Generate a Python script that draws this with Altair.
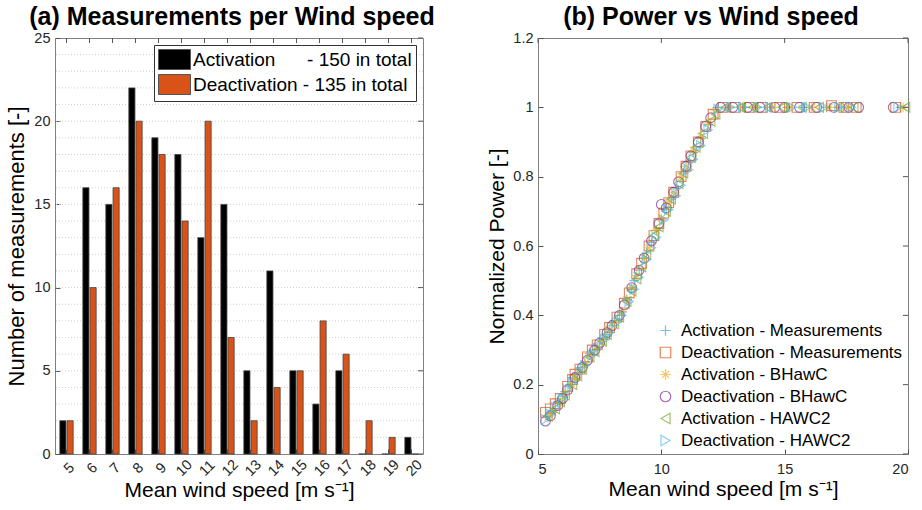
import altair as alt
import pandas as pd

# ---------------- data: panel (a) ----------------
speeds = list(range(5, 21))
act_counts = [2, 16, 15, 22, 19, 18, 13, 15, 5, 11, 5, 3, 5, 0, 0, 1]
deact_counts = [2, 10, 16, 20, 18, 14, 20, 7, 2, 4, 5, 8, 6, 2, 1, 0]
bar_series = ["Activation\u00a0\u00a0\u00a0\u00a0\u00a0\u00a0- 150 in total",
              "Deactivation - 135 in total"]
bar_colors = ["#000000", "#D95319"]
grid_vals = list(range(1, 25))
y_ticks_a = [0, 5, 10, 15, 20, 25]

# ---------------- data: panel (b) ----------------
am_x = [5.4,5.6,5.8,6.0,6.1,6.3,6.4,6.6,6.8,6.9,7.1,7.3,7.5,7.6,7.8,8.0,8.1,8.3,8.4,8.6,
        8.8,8.9,9.1,9.3,9.4,9.6,9.8,10.0,10.2,10.4,10.6,10.9,11.1,11.3,11.6,11.9,12.3,12.8,
        13.4,13.9,14.4,15.1,15.8,16.7,17.3,19.7]
am_y = [.11,.125,.15,.165,.18,.20,.22,.235,.25,.265,.29,.30,.32,.335,.345,.37,.385,.40,.41,.445,
        .475,.50,.53,.565,.58,.61,.645,.675,.705,.735,.765,.81,.84,.87,.91,.95,1.0,1.0,
        1.0,1.0,1.0,1.0,1.0,1.0,1.0,1.0]
dm_x = [5.3,5.5,5.7,5.9,6.2,6.4,6.5,6.7,7.0,7.2,7.4,7.7,7.9,8.2,8.5,8.7,9.0,9.2,9.5,9.7,
        9.9,10.1,10.3,10.5,10.8,11.0,11.2,11.5,11.8,12.1,12.5,13.0,13.6,14.1,14.8,15.5,16.2,
        16.9,17.4,17.9,19.5]
dm_y = [.12,.13,.145,.16,.195,.215,.23,.245,.28,.30,.315,.345,.365,.395,.435,.465,.52,.55,.60,.63,
        .665,.695,.725,.755,.80,.83,.86,.90,.945,.98,1.0,1.0,1.0,1.0,1.0,1.0,1.0,
        1.005,1.0,1.0,1.0]
ab_x = [5.4,5.6,5.9,6.1,6.3,6.5,6.7,6.9,7.1,7.4,7.6,7.9,8.1,8.4,8.6,8.8,9.0,9.3,9.5,9.8,
        10.0,10.3,10.5,10.8,11.0,11.3,11.6,11.9,12.2,12.7,13.3,13.8,14.5,15.2,16.1,16.8,17.5,19.8]
ab_y = [.105,.12,.15,.175,.195,.22,.24,.26,.285,.31,.325,.36,.38,.41,.445,.48,.515,.565,.595,.645,
        .68,.725,.755,.80,.83,.875,.915,.955,.99,1.0,1.0,1.0,1.0,1.0,1.0,1.0,1.0,1.0]
db_x = [5.3,5.5,5.8,6.0,6.2,6.5,6.8,7.0,7.3,7.5,7.8,8.0,8.3,8.5,8.8,9.1,9.3,9.6,9.9,10.0,
        10.2,10.5,10.7,11.0,11.2,11.5,11.8,12.0,12.4,12.9,13.5,14.0,14.6,15.0,15.6,16.3,17.0,
        17.6,18.0,19.4]
db_y = [.095,.11,.14,.16,.185,.22,.25,.27,.30,.32,.35,.37,.40,.43,.48,.53,.565,.615,.665,.72,
        .71,.755,.785,.83,.86,.90,.945,.97,1.0,1.0,1.0,1.0,1.0,1.0,1.0,1.0,1.0,
        1.0,1.0,1.0]
ah_x = [5.4,5.7,5.9,6.1,6.4,6.6,6.8,7.1,7.3,7.6,7.8,8.1,8.3,8.6,8.8,9.0,9.2,9.4,9.7,9.9,
        10.2,10.4,10.7,10.9,11.2,11.4,11.7,12.0,12.2,12.6,13.2,13.7,14.3,14.9,15.7,16.4,17.2,
        17.8,19.9]
ah_y = [.11,.13,.15,.17,.20,.225,.245,.28,.295,.325,.345,.375,.395,.44,.47,.505,.54,.575,.63,.655,
        .70,.735,.78,.81,.855,.885,.925,.96,.98,1.0,1.0,1.0,1.0,1.0,1.0,1.0,1.0,
        1.0,1.0]
dh_x = [5.3,5.5,5.7,6.0,6.2,6.4,6.7,6.9,7.2,7.4,7.7,7.9,8.2,8.4,8.7,8.9,9.1,9.4,9.6,9.8,
        10.1,10.3,10.6,10.8,11.1,11.3,11.6,11.9,12.3,12.8,13.3,13.9,14.4,15.3,15.9,16.6,17.2,
        17.7,19.6]
dh_y = [.10,.115,.135,.16,.185,.205,.235,.255,.285,.305,.33,.35,.38,.40,.44,.475,.51,.56,.595,.625,
        .675,.705,.745,.775,.82,.85,.89,.935,.995,1.0,1.0,1.0,1.0,1.0,1.0,1.0,1.0,
        1.0,1.0]

pt_series = ["Activation - Measurements", "Deactivation - Measurements",
             "Activation - BHawC", "Deactivation - BHawC",
             "Activation - HAWC2", "Deactivation - HAWC2"]
pt_colors = ["#3FA4E0", "#D95319", "#EDB120", "#7E2F8E", "#77AC30", "#4DBEEE"]
plus_path = "M-1,0H1M0,-1V1"
star_path = "M-1,0H1M0,-1V1M-0.7,-0.7L0.7,0.7M-0.7,0.7L0.7,-0.7"
pt_shapes = [plus_path, "square", star_path, "circle", "triangle-left", "triangle-right"]
x_ticks_b = [5, 10, 15, 20]
y_ticks_b = [0, 0.2, 0.4, 0.6, 0.8, 1.0, 1.2]

# ---------------- tables ----------------
bars_df = pd.DataFrame(
    [{"speed": s, "series": bar_series[0], "count": c} for s, c in zip(speeds, act_counts)]
    + [{"speed": s, "series": bar_series[1], "count": c} for s, c in zip(speeds, deact_counts)]
)
grid_df = pd.DataFrame({"g": grid_vals})
speed_df = pd.DataFrame({"speed": speeds})
yta_df = pd.DataFrame({"v": y_ticks_a})
xtb_df = pd.DataFrame({"v": x_ticks_b})
ytb_df = pd.DataFrame({"v": y_ticks_b})

rows = []
for name, xs, ys in zip(pt_series,
                        [am_x, dm_x, ab_x, db_x, ah_x, dh_x],
                        [am_y, dm_y, ab_y, db_y, ah_y, dh_y]):
    for xv, yv in zip(xs, ys):
        rows.append({"series": name, "ws": xv, "p": yv})
pts_df = pd.DataFrame(rows)

FONT = "Liberation Sans"
LAB = "#262626"
TICK = "#555555"
WA, WB, H = 368, 370, 416

# ---------------- panel (a) ----------------
xs_a = alt.Scale(paddingInner=0.42, paddingOuter=0.21)
ys_a = alt.Scale(domain=[0, 25])

grid_layer = alt.Chart(grid_df).mark_rule(color="#cfcfcf", strokeDash=[1, 2], strokeWidth=1).encode(
    y=alt.Y("g:Q", scale=ys_a, axis=None)
)

bar_layer = alt.Chart(bars_df).mark_bar(stroke="#444444", strokeWidth=0.8).encode(
    x=alt.X("speed:O", scale=xs_a, sort=speeds,
            axis=alt.Axis(title="Mean wind speed [m s\u207b\u00b9]", labelAngle=315,
                          labelAlign="center", labelBaseline="middle", labelPadding=14,
                          labelOffset=3, tickSize=5, offset=-5, domain=False,
                          titlePadding=1, titleFontSize=21)),
    xOffset=alt.XOffset("series:N", sort=bar_series,
                        scale=alt.Scale(domain=bar_series, paddingInner=0.15)),
    y=alt.Y("count:Q", scale=ys_a,
            axis=alt.Axis(title="Number of measurements [-]", values=y_ticks_a,
                          tickSize=5, offset=-5, domain=False, grid=False,
                          labelPadding=5, titlePadding=5, titleFontSize=22)),
    color=alt.Color("series:N", sort=bar_series,
                    scale=alt.Scale(domain=bar_series, range=bar_colors),
                    legend=alt.Legend(title=None, orient="top-right", offset=7,
                                      strokeColor="#333333", fillColor="white", padding=4,
                                      labelFontSize=19, labelColor="#000000", labelLimit=400,
                                      symbolType="M-1.6,-1H1.6V1H-1.6Z", symbolSize=400,
                                      symbolStrokeColor="#555555", symbolStrokeWidth=1,
                                      symbolOffset=6, labelOffset=8, rowPadding=0)),
)

top_ticks_a = alt.Chart(speed_df).mark_rule(color=TICK).encode(
    x=alt.X("speed:O", scale=xs_a, sort=speeds, axis=None),
    y=alt.value(0), y2=alt.value(5),
)
right_ticks_a = alt.Chart(yta_df).mark_rule(color=TICK).encode(
    y=alt.Y("v:Q", scale=ys_a, axis=None),
    x=alt.value(WA - 5), x2=alt.value(WA),
)

panel_a = alt.layer(grid_layer, bar_layer, top_ticks_a, right_ticks_a).resolve_axis(
    x="independent", y="independent"
).properties(
    width=WA, height=H,
    title=alt.TitleParams("(a) Measurements per Wind speed", fontSize=25, fontWeight="bold",
                          frame="group", anchor="middle", offset=0, dx=-7, font=FONT),
)

# ---------------- panel (b) ----------------
xs_b = alt.Scale(domain=[5, 20], nice=False)
ys_b = alt.Scale(domain=[0, 1.2], nice=False)

pts_layer = alt.Chart(pts_df).mark_point(filled=False, size=95, strokeWidth=1.1).encode(
    x=alt.X("ws:Q", scale=xs_b,
            axis=alt.Axis(title="Mean wind speed [m s\u207b\u00b9]", values=x_ticks_b,
                          tickSize=5, offset=-5, domain=False, grid=False,
                          labelPadding=8, titlePadding=3, titleFontSize=21)),
    y=alt.Y("p:Q", scale=ys_b,
            axis=alt.Axis(title="Normalized Power [-]", values=y_ticks_b, format="~g",
                          tickSize=5, offset=-5, domain=False, grid=False,
                          labelPadding=5, titlePadding=5, titleFontSize=21)),
    color=alt.Color("series:N", sort=pt_series,
                    scale=alt.Scale(domain=pt_series, range=pt_colors),
                    legend=alt.Legend(title=None, orient="bottom-right", offset=3, padding=2,
                                      labelFontSize=17, labelColor="#000000", labelLimit=400,
                                      symbolSize=110, symbolStrokeWidth=1.2,
                                      rowPadding=4, labelOffset=7)),
    shape=alt.Shape("series:N", sort=pt_series,
                    scale=alt.Scale(domain=pt_series, range=pt_shapes)),
)

top_ticks_b = alt.Chart(xtb_df).mark_rule(color=TICK).encode(
    x=alt.X("v:Q", scale=xs_b, axis=None),
    y=alt.value(0), y2=alt.value(5),
)
right_ticks_b = alt.Chart(ytb_df).mark_rule(color=TICK).encode(
    y=alt.Y("v:Q", scale=ys_b, axis=None),
    x=alt.value(WB - 5), x2=alt.value(WB),
)

panel_b = alt.layer(pts_layer, top_ticks_b, right_ticks_b).resolve_axis(
    x="independent", y="independent"
).properties(
    width=WB, height=H,
    title=alt.TitleParams("(b) Power vs Wind speed", fontSize=25, fontWeight="bold",
                          frame="group", anchor="middle", offset=0, dx=-12, font=FONT),
)

chart = alt.hconcat(panel_a, panel_b, spacing=50).resolve_scale(
    color="independent", shape="independent"
).properties(
    padding={"left": 5, "top": 4, "right": 0, "bottom": 0}
).configure(
    font=FONT
).configure_view(
    stroke="#808080", strokeWidth=1
).configure_axis(
    labelFont=FONT, titleFont=FONT, labelFontSize=14.5, titleFontSize=21,
    labelColor=LAB, titleColor="#000000", tickColor=TICK, titleFontWeight="normal"
).configure_legend(
    labelFont=FONT
)

chart.save("out.html", embed_options={"renderer": "svg", "actions": False})
